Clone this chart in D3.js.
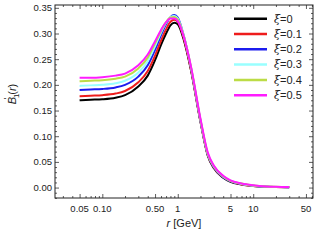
<!DOCTYPE html>
<html>
<head>
<meta charset="utf-8">
<script src="https://cdn.jsdelivr.net/npm/d3@7"></script>
<style>
  body { margin: 0; background: #fff; }
  text { font-family: "Liberation Sans", Arial, sans-serif; }
</style>
</head>
<body>
<div id="chart"></div>
<script>
// r grid (GeV) shared by all series
var rValues = [0.05, 0.07, 0.1, 0.15, 0.2, 0.3, 0.4, 0.5, 0.6, 0.7, 0.8, 0.9, 1.0, 1.2, 1.5, 2, 2.5, 3, 4, 5, 7, 10, 15, 20, 30];

var xi0  = [0.170, 0.171, 0.172, 0.175, 0.180, 0.197, 0.218, 0.248, 0.278, 0.300, 0.316, 0.321, 0.318, 0.288, 0.228, 0.128, 0.062, 0.038, 0.019, 0.011, 0.006, 0.003, 0.0015, 0.001, 0.0005];
var xi01 = [0.178, 0.179, 0.180, 0.183, 0.188, 0.205, 0.227, 0.257, 0.286, 0.308, 0.323, 0.327, 0.323, 0.291, 0.229, 0.129, 0.063, 0.039, 0.020, 0.012, 0.006, 0.003, 0.0016, 0.001, 0.0006];
var xi02 = [0.190, 0.191, 0.192, 0.195, 0.200, 0.216, 0.238, 0.268, 0.297, 0.318, 0.332, 0.336, 0.331, 0.296, 0.232, 0.130, 0.064, 0.040, 0.020, 0.012, 0.007, 0.0035, 0.0018, 0.0012, 0.0007];
var xi03 = [0.198, 0.199, 0.200, 0.203, 0.208, 0.224, 0.246, 0.275, 0.302, 0.321, 0.332, 0.334, 0.329, 0.296, 0.233, 0.131, 0.065, 0.041, 0.021, 0.013, 0.007, 0.0035, 0.0019, 0.0013, 0.0008];
var xi04 = [0.207, 0.208, 0.209, 0.212, 0.216, 0.232, 0.253, 0.281, 0.305, 0.322, 0.331, 0.332, 0.327, 0.295, 0.234, 0.132, 0.066, 0.042, 0.022, 0.013, 0.008, 0.004, 0.002, 0.0014, 0.0009];
var xi05 = [0.214, 0.214, 0.215, 0.218, 0.222, 0.238, 0.259, 0.285, 0.307, 0.322, 0.329, 0.329, 0.324, 0.294, 0.235, 0.134, 0.068, 0.043, 0.023, 0.014, 0.008, 0.0045, 0.0022, 0.0015, 0.001];

var seriesNames = ["0", "0.1", "0.2", "0.3", "0.4", "0.5"];
var seriesValues = [xi0, xi01, xi02, xi03, xi04, xi05];
var colors = ["#000000", "#ee1c1c", "#1c1cee", "#99ffff", "#bcdc46", "#ff1cff"];

var xTickValues = [0.05, 0.1, 0.5, 1, 5, 10, 50];
var xTickLabels = ["0.05", "0.10", "0.50", "1", "5", "10", "50"];
var yTickValues = [0, 0.05, 0.1, 0.15, 0.2, 0.25, 0.3, 0.35];

var svgWidth = 318, svgHeight = 241;
var margin = { top: 5, right: 5, bottom: 43, left: 55 };
var width = svgWidth - margin.left - margin.right;
var height = svgHeight - margin.top - margin.bottom;

var svg = d3.select("#chart").append("svg")
  .attr("width", svgWidth)
  .attr("height", svgHeight);

var chartGroup = svg.append("g")
  .attr("transform", `translate(${margin.left}, ${margin.top})`);

var x = d3.scaleLog().domain([0.0236, 62]).range([0, width]);
var y = d3.scaleLinear().domain([-0.0203, 0.3555]).range([height, 0]);

// minor ticks
var xMinor = [];
[0.01, 0.1, 1, 10].forEach(function (d) {
  for (var k = 1; k <= 9; k++) {
    var v = d * k;
    if (v > 0.0236 && v < 62 && xTickValues.indexOf(+v.toPrecision(3)) < 0) xMinor.push(v);
  }
});
var yMinor = d3.range(-0.02, 0.355, 0.01).filter(function (v) {
  return Math.abs(Math.round(v * 100) % 5) !== 0;
});

function tickAxis(axis, values, size) {
  return axis.tickValues(values).tickSize(size).tickFormat("");
}

// bottom / top
chartGroup.append("g").attr("transform", `translate(0, ${height})`)
  .call(tickAxis(d3.axisTop(x), xMinor, 2));
chartGroup.append("g").attr("transform", `translate(0, ${height})`)
  .call(d3.axisTop(x).tickValues(xTickValues).tickSize(4).tickFormat(""));
chartGroup.append("g").call(tickAxis(d3.axisBottom(x), xMinor, 2));
chartGroup.append("g").call(tickAxis(d3.axisBottom(x), xTickValues, 4));
// left / right
chartGroup.append("g").call(tickAxis(d3.axisRight(y), yMinor, 2));
chartGroup.append("g").call(tickAxis(d3.axisRight(y), yTickValues, 4));
chartGroup.append("g").attr("transform", `translate(${width}, 0)`)
  .call(tickAxis(d3.axisLeft(y), yMinor, 2));
chartGroup.append("g").attr("transform", `translate(${width}, 0)`)
  .call(tickAxis(d3.axisLeft(y), yTickValues, 4));

chartGroup.selectAll(".domain").remove();
chartGroup.selectAll(".tick line").attr("stroke", "#333").attr("stroke-width", 0.8);

// frame
chartGroup.append("rect")
  .attr("width", width).attr("height", height)
  .attr("fill", "none").attr("stroke", "#222").attr("stroke-width", 1);

// tick labels
chartGroup.selectAll("text.xlab")
  .data(xTickValues)
  .enter().append("text")
  .attr("class", "xlab")
  .attr("x", d => x(d))
  .attr("y", height + 14)
  .attr("text-anchor", "middle")
  .attr("font-size", "9.5px")
  .attr("fill", "#222")
  .text((d, i) => xTickLabels[i]);

chartGroup.selectAll("text.ylab")
  .data(yTickValues)
  .enter().append("text")
  .attr("class", "ylab")
  .attr("x", -3)
  .attr("y", d => y(d))
  .attr("dy", "0.35em")
  .attr("text-anchor", "end")
  .attr("font-size", "9.5px")
  .attr("fill", "#222")
  .text(d => d.toFixed(2));

// curves
var line = d3.line()
  .x((d, i) => x(rValues[i]))
  .y(d => y(d))
  .curve(d3.curveMonotoneX);

chartGroup.selectAll("path.curve")
  .data(seriesValues)
  .enter().append("path")
  .attr("class", "curve")
  .attr("d", d => line(d))
  .attr("fill", "none")
  .attr("stroke", (d, i) => colors[i])
  .attr("stroke-width", 2);

// legend
var legend = svg.append("g");
seriesNames.forEach(function (name, i) {
  var ly = 18.7 + i * 15.3;
  legend.append("line")
    .attr("x1", 234).attr("x2", 267)
    .attr("y1", ly).attr("y2", ly)
    .attr("stroke", colors[i]).attr("stroke-width", 2.5);
  var t = legend.append("text")
    .attr("x", 274).attr("y", ly).attr("dy", "0.35em")
    .attr("font-size", "11px").attr("fill", "#222");
  t.append("tspan").attr("font-style", "italic").attr("font-family", "DejaVu Serif").text("ξ");
  t.append("tspan").text("=" + name);
});

// axis labels
var yl = svg.append("text")
  .attr("transform", "translate(16, 94) rotate(-90)")
  .attr("text-anchor", "middle")
  .attr("font-size", "11px")
  .attr("fill", "#222");
yl.append("tspan").attr("font-style", "italic").text("B");
yl.append("tspan").attr("font-size", "8px").attr("dy", "3").attr("dx", "-1").text("1");
yl.append("tspan").attr("font-size", "9px").attr("dy", "-9").attr("dx", "-6").text("'");
yl.append("tspan").attr("dy", "6").attr("dx", "3").text("(");
yl.append("tspan").attr("font-style", "italic").text("r");
yl.append("tspan").text(")");

var xl = svg.append("text")
  .attr("x", 184).attr("y", 227)
  .attr("text-anchor", "middle")
  .attr("font-size", "11px")
  .attr("fill", "#222");
xl.append("tspan").attr("font-style", "italic").text("r");
xl.append("tspan").text(" [GeV]");
</script>
</body>
</html>
